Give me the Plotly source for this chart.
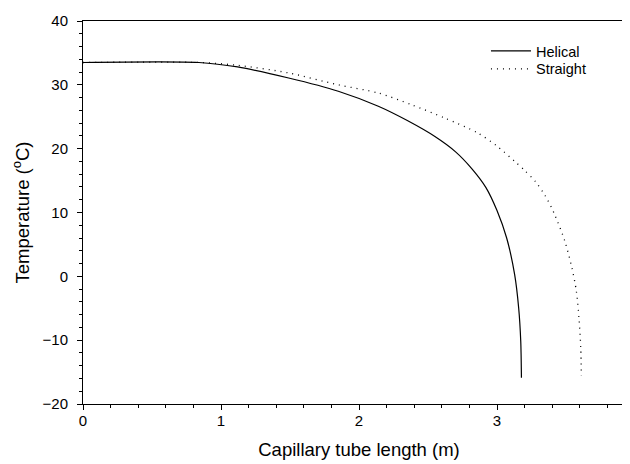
import plotly.graph_objects as go

# Capillary tube length (m) and temperature (°C)
helical_len = [0.0, 0.84, 1.12, 1.49, 1.85, 2.14, 2.35, 2.55, 2.70, 2.82, 2.92, 3.00, 3.07, 3.128, 3.157, 3.172, 3.177]
helical_temp = [33.5, 33.5, 32.8, 31.07, 29.0, 26.64, 24.4, 21.9, 19.5, 16.8, 13.9, 10.3, 6.0, 0.26, -4.96, -10.13, -15.9]

straight_len = [0.0, 0.84, 1.12, 1.49, 1.85, 2.14, 2.38, 2.62, 2.86, 3.0, 3.128, 3.20, 3.28, 3.35, 3.413, 3.491, 3.543, 3.575, 3.594, 3.607, 3.611]
straight_temp = [33.5, 33.5, 33.06, 31.86, 30.0, 28.72, 26.89, 24.81, 22.46, 20.4, 18.02, 16.6, 14.8, 12.6, 9.92, 5.54, 1.31, -2.3, -6.53, -11.23, -15.6]

x_range = [0, 4]
y_range = [-20, 40]

FONT = "Arial, Liberation Sans, sans-serif"

fig = go.Figure()
fig.add_trace(go.Scatter(x=helical_len, y=helical_temp, mode="lines", name="Helical",
                         legend="legend",
                         line=dict(color="black", width=1.2, shape="spline", smoothing=0.8)))
fig.add_trace(go.Scatter(x=straight_len, y=straight_temp, mode="lines", name="Straight",
                         legend="legend2",
                         line=dict(color="black", width=1.3, dash="1px,5px", shape="spline", smoothing=0.8)))

axis_common = dict(showline=True, linecolor="black", linewidth=1, mirror=True,
                   showgrid=False, zeroline=False, ticks="outside", ticklen=5,
                   tickcolor="black", tickwidth=1, automargin=False,
                   ticklabeloverflow="allow",
                   tickfont=dict(family=FONT, size=15, color="black"))

fig.update_xaxes(range=x_range, tickmode="linear", tick0=0, dtick=1, ticklabelstandoff=-2,
                 minor=dict(dtick=0.2, tick0=0, ticks="outside", ticklen=3, tickwidth=1,
                            tickcolor="black", showgrid=False),
                 title=dict(text="Capillary tube length (m)", font=dict(family=FONT, size=18.5, color="black"), standoff=15),
                 **axis_common)
fig.update_yaxes(range=y_range, tickmode="linear", tick0=-20, dtick=10, ticklabelstandoff=6,
                 minor=dict(dtick=2, tick0=0, ticks="outside", ticklen=3, tickwidth=1,
                            tickcolor="black", showgrid=False),
                 title=dict(text="Temperature (<sup>o</sup>C)", font=dict(family=FONT, size=18.5, color="black"), standoff=8),
                 **axis_common)

legend_style = dict(xanchor="left", yanchor="middle", bgcolor="rgba(0,0,0,0)",
                    borderwidth=0, itemwidth=40,
                    font=dict(family=FONT, size=14.5, color="black"))

fig.update_layout(width=630, height=464,
                  margin=dict(l=75, r=3, t=13, b=68, autoexpand=False),
                  paper_bgcolor="white", plot_bgcolor="white",
                  font=dict(family=FONT, size=15, color="black"),
                  showlegend=True,
                  legend=dict(x=0.73, y=0.9216, **legend_style),
                  legend2=dict(x=0.73, y=0.875, **legend_style))

fig.write_html("out.html")
